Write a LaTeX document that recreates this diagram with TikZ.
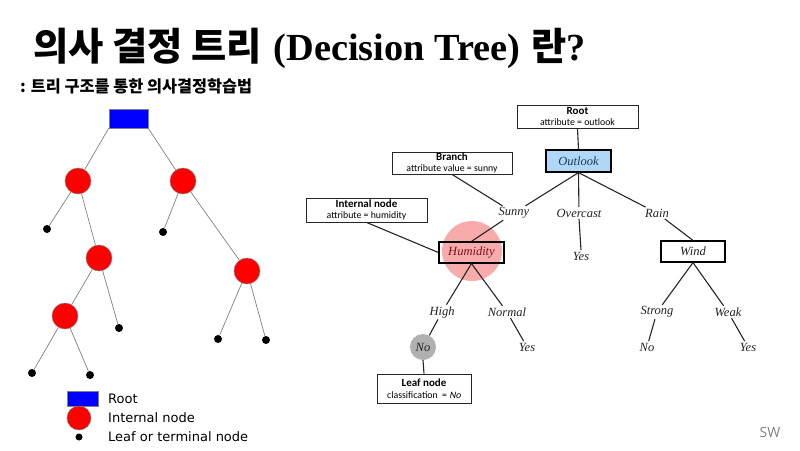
\documentclass[tikz,border=0pt]{standalone}
\usepackage{fontspec}
\newfontfamily\kr{Noto Sans CJK KR}
\newfontfamily\tms{Liberation Serif}
\newfontfamily\dvs{DejaVu Sans}
\newfontfamily\calib{Carlito}
\newfontfamily\calibsl{Carlito}[FakeSlant=0.2]
\newfontfamily\osans{Open Sans}
\definecolor{edgegray}{HTML}{808080}
\definecolor{outlookfill}{HTML}{AED8F6}
\definecolor{outlooktext}{HTML}{1F3A60}
\definecolor{pinkhalo}{HTML}{F7ABAB}
\definecolor{humtext}{HTML}{7A1020}
\definecolor{leafgray}{HTML}{B0B0B0}
\definecolor{labeltext}{HTML}{222222}
\tikzset{
  treeedge/.style={draw=edgegray, line width=0.7pt},
  rootbox/.style={draw=edgegray, line width=0.5pt, fill=blue, inner sep=0pt},
  innode/.style={circle, draw=edgegray, line width=0.5pt, fill=red, minimum size=26pt, inner sep=0pt},
  leafdot/.style={circle, fill=black, minimum size=8pt, inner sep=0pt},
  legtext/.style={anchor=west, inner sep=0pt, font=\dvs\fontsize{13}{13}\selectfont},
  infobox/.style={draw=black!85, line width=0.8pt, align=center, inner sep=0pt, fill=white},
  wire/.style={draw=black!85, line width=1.1pt},
  vlabel/.style={inner sep=1.5pt, text=labeltext, font=\tms\itshape\fontsize{12.5}{12.5}\selectfont},
  attrbox/.style={draw=black, line width=1.2pt, inner sep=0pt, font=\tms\itshape\fontsize{12.5}{12.5}\selectfont},
}
\newcommand{\boxtext}[2]{{\calib\bfseries\fontsize{11}{11}\selectfont #1}\\[-0.5pt]{\calib\fontsize{9.8}{9.8}\selectfont #2}}
\begin{document}
\begin{tikzpicture}[x=1pt,y=-1pt]
\useasboundingbox (0,0) rectangle (800,450);
\fill[white] (0,0) rectangle (800,450);

% heading
\node[anchor=base west, inner sep=0pt] (title) at (33,60)
  {\fontsize{38.3}{38.3}\selectfont{\kr\bfseries 의사 결정 트리} {\tms\bfseries (Decision Tree)} {\kr\bfseries 란}{\tms\bfseries ?}};
\node[anchor=base west, inner sep=0pt] (subtitle) at (20,92)
  {\kr\bfseries\fontsize{16.3}{16.3}\selectfont : 트리 구조를 통한 의사결정학습법};

% generic tree
\node[rootbox, minimum width=39pt, minimum height=19pt] (lroot) at (128.5,118.5) {};
\node[innode] (c1) at (78,181) {};
\node[innode] (c2) at (183,181) {};
\node[innode] (c3) at (99,258) {};
\node[innode] (c4) at (247,271) {};
\node[innode] (c5) at (65,316) {};
\node[leafdot] (l1) at (47,229) {};
\node[leafdot] (l2) at (163,232) {};
\node[leafdot] (l3) at (119,328) {};
\node[leafdot] (l4) at (218,339) {};
\node[leafdot] (l5) at (266,340) {};
\node[leafdot] (l6) at (32,373) {};
\node[leafdot] (l7) at (90,375) {};
\draw[treeedge] (lroot.south west) -- (c1);
\draw[treeedge] (lroot.south east) -- (c2);
\draw[treeedge] (c1) -- (l1);
\draw[treeedge] (c1) -- (c3);
\draw[treeedge] (c2) -- (l2);
\draw[treeedge] (c2) -- (c4);
\draw[treeedge] (c3) -- (c5);
\draw[treeedge] (c3) -- (l3);
\draw[treeedge] (c4) -- (l4);
\draw[treeedge] (c4) -- (l5);
\draw[treeedge] (c5) -- (l6);
\draw[treeedge] (c5) -- (l7);

% legend
\node[rootbox, minimum width=31pt, minimum height=15pt] (kroot) at (82.5,398.5) {};
\node[innode, minimum size=24pt] (kin) at (79,418) {};
\node[leafdot, minimum size=7pt] (kleaf) at (79,437) {};
\node[legtext] (troot) at (108,398.5) {Root};
\node[legtext] (tin) at (108,418) {Internal node};
\node[legtext] (tleaf) at (108,437) {Leaf or terminal node};

% weather tree
\fill[pinkhalo] (472,251) circle (30);
\node[infobox, minimum width=121pt, minimum height=23pt] (rootinfo) at (577.5,116.5) {\boxtext{Root}{attribute = outlook}};
\node[infobox, minimum width=120pt, minimum height=22pt] (branchinfo) at (452,163) {\boxtext{Branch}{attribute value = sunny}};
\node[infobox, minimum width=121pt, minimum height=24pt] (internalinfo) at (366.5,210) {\boxtext{Internal node}{attribute = humidity}};
\node[infobox, minimum width=94pt, minimum height=29pt] (leafinfo) at (424,388.5) {\boxtext{Leaf node}{classification~ = {\calibsl No}}};

\node[attrbox, fill=outlookfill, text=outlooktext, minimum width=65pt, minimum height=22pt] (outlook) at (578.5,161) {Outlook};
\node[attrbox, text=humtext, minimum width=65pt, minimum height=21pt] (humidity) at (471.5,252.5) {Humidity};
\node[attrbox, fill=white, text=labeltext, minimum width=64pt, minimum height=21pt] (wind) at (693,251.5) {Wind};

\node[vlabel] (sunny) at (514,213) {Sunny};
\node[vlabel] (overcast) at (579,213) {Overcast};
\node[vlabel] (rain) at (657,213) {Rain};
\node[vlabel] (yesA) at (581,256) {Yes};
\node[vlabel] (high) at (442,312) {High};
\node[vlabel] (normal) at (507,312) {Normal};
\node[vlabel, circle, fill=leafgray, minimum size=26pt, inner sep=0pt] (noA) at (423,347) {No};
\node[vlabel] (yesB) at (527,347) {Yes};
\node[vlabel] (strong) at (657,312) {Strong};
\node[vlabel] (weak) at (728,312) {Weak};
\node[vlabel] (noB) at (647,347) {No};
\node[vlabel] (yesC) at (748,347) {Yes};

\draw[wire] (rootinfo.south) -- (outlook.north);
\draw[wire] (outlook.south) -- (sunny);
\draw[wire] (outlook.south) -- (overcast);
\draw[wire] (outlook.south) -- (rain);
\draw[wire] (overcast.south) -- (yesA.north);
\draw[wire] (rain) -- (wind.north);
\draw[wire] (sunny) -- (humidity.north);
\draw[wire] (branchinfo.south) -- (sunny);
\draw[wire] (internalinfo.south) -- (humidity.west);
\draw[wire] (humidity.south) -- (high);
\draw[wire] (humidity.south) -- (normal);
\draw[wire] (high) -- (noA);
\draw[wire] (normal) -- (yesB);
\draw[wire] (noA.south) -- (leafinfo.north);
\draw[wire] (wind.south) -- (strong);
\draw[wire] (wind.south) -- (weak);
\draw[wire] (strong) -- (noB);
\draw[wire] (weak) -- (yesC);

% signature
\node[text=black!50, font=\osans\fontsize{14}{14}\selectfont] (sig) at (770,432) {SW};
\end{tikzpicture}
\end{document}
